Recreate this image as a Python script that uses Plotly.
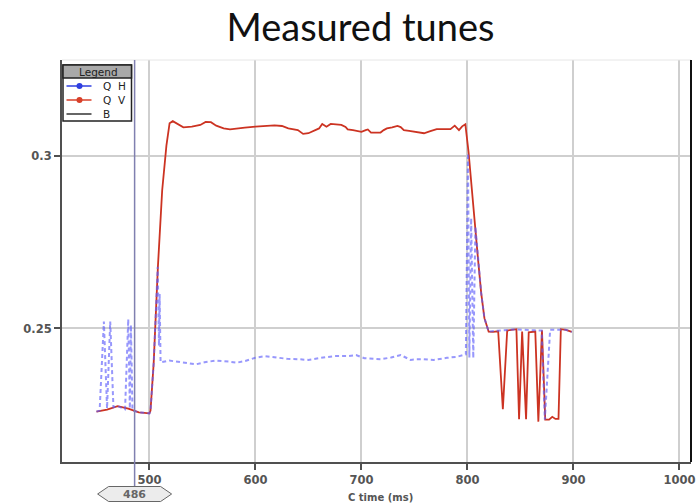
import plotly.graph_objects as go

# ---- data -------------------------------------------------------------
# Q V (vertical tune) vs C time
qv_t = [450, 460, 470, 480, 490, 500, 501, 504, 508, 512, 516, 519, 522, 526, 532,
        540, 548, 553, 558, 563, 570, 576, 583, 590, 600, 610, 618, 625, 631, 640,
        645, 650, 656, 660, 663, 665, 667, 671, 676, 681, 685, 687, 692, 700, 704,
        706, 709, 714, 718, 721, 724, 729, 734, 737, 740, 745, 750, 755, 759, 765,
        771, 778, 784, 788, 792, 795, 798, 801, 804, 807, 810, 813, 816, 820, 824,
        829, 833.4, 837.5, 842, 846.2, 848.7, 851.6, 855.3, 857.8, 864, 866.9, 870.3,
        873.4, 877, 880, 883, 885.9, 888.1, 893, 898.4]
qv_val = [0.2259, 0.2265, 0.2275, 0.2268, 0.2257, 0.2254, 0.2262, 0.2400, 0.2680, 0.2900,
          0.3030, 0.3095, 0.3101, 0.3093, 0.3083, 0.3085, 0.3090, 0.3099, 0.3098, 0.3088,
          0.3080, 0.3077, 0.3080, 0.3082, 0.3085, 0.3087, 0.3089, 0.3087, 0.3080, 0.3075,
          0.3064, 0.3066, 0.3073, 0.3080, 0.3093, 0.3088, 0.3085, 0.3093, 0.3091, 0.3090,
          0.3084, 0.3077, 0.3075, 0.3070, 0.3075, 0.3077, 0.3068, 0.3068, 0.3068, 0.3075,
          0.3080, 0.3083, 0.3087, 0.3084, 0.3075, 0.3073, 0.3070, 0.3068, 0.3066, 0.3072,
          0.3078, 0.3078, 0.3078, 0.3088, 0.3075, 0.3086, 0.3092, 0.3013, 0.2900, 0.2795,
          0.2700, 0.2602, 0.2530, 0.2491, 0.2490, 0.2492, 0.2266, 0.2494, 0.2496, 0.2498,
          0.2237, 0.2491, 0.2237, 0.2489, 0.2491, 0.2230, 0.2495, 0.2236, 0.2236, 0.2244,
          0.2238, 0.2238, 0.2498, 0.2496, 0.2490]

# Q H (horizontal tune) vs C time
qh_t = [450, 453, 457, 460, 463, 466, 470, 477, 480, 481.5, 482.5, 484, 490, 500, 501,
        504, 507.8, 509, 509.6, 510.5, 518.7, 530, 537.4, 543.7, 552, 562.4, 574.8, 582.6,
        590.4, 599.8, 609.1, 621.6, 630, 640.3, 649.7, 662.1, 674.6, 687.1, 694.9, 702.7,
        710, 718.3, 728, 737, 746.3, 752, 758.8, 768.2, 780.6, 790, 796.2, 798.5, 800.5,
        801.8, 803.5, 805.5, 807.5, 810, 813, 816, 820, 823, 829, 835, 842, 848, 855, 862,
        870, 873, 878, 884, 888, 893, 898.4]
qh_val = [0.2259, 0.2262, 0.2520, 0.2268, 0.2520, 0.2272, 0.2275, 0.2266, 0.2527, 0.2268,
          0.2510, 0.2262, 0.2257, 0.2254, 0.2262, 0.2400, 0.2679, 0.2450, 0.2600, 0.2402,
          0.2407, 0.2403, 0.2399, 0.2396, 0.2402, 0.2407, 0.2404, 0.2401, 0.2406, 0.2415,
          0.2420, 0.2414, 0.2412, 0.2411, 0.2409, 0.2415, 0.2420, 0.2420, 0.2423, 0.2414,
          0.2412, 0.2411, 0.2416, 0.2423, 0.2409, 0.2411, 0.2411, 0.2409, 0.2415, 0.2418,
          0.2423, 0.2425, 0.3008, 0.2416, 0.2820, 0.2414, 0.2795, 0.2700, 0.2602, 0.2530,
          0.2491, 0.2492, 0.2494, 0.2495, 0.2497, 0.2497, 0.2495, 0.2495, 0.2494, 0.2236,
          0.2496, 0.2496, 0.2498, 0.2496, 0.2490]

x_ticks = [500, 600, 700, 800, 900, 1000]
y_ticks = [0.25, 0.3]
y_tick_text = ["0.25", "0.3"]
cursor_t = 486
legend_names = ["Q H", "Q V", "B"]
legend_colors = ["#2f3fe0", "#d8402a", "#333333"]
legend_markers = [True, True, False]

# ---- styling ----------------------------------------------------------
RED = "#cc3322"
BLUE = "rgba(95,95,250,0.65)"
AXIS = "#505050"
GRID = "#cfcfcf"
TICK_FONT = dict(family="DejaVu Sans", size=11.5, color="#555555", weight="bold")
LEG_FONT = dict(family="DejaVu Sans", size=10.5, color="#222222")

fig = go.Figure()
fig.add_trace(go.Scatter(x=qv_t, y=qv_val, mode="lines", name="Q V",
                         line=dict(color=RED, width=1.8), showlegend=False))
fig.add_trace(go.Scatter(x=qh_t, y=qh_val, mode="lines", name="Q H",
                         line=dict(color=BLUE, width=2, dash="4px,3px"), showlegend=False))

shapes = []
# faint top frame and black right frame
shapes.append(dict(type="line", xref="paper", yref="paper", x0=0, x1=1, y0=1, y1=1,
                   line=dict(color="#e6e6e6", width=1)))
shapes.append(dict(type="line", xref="paper", yref="paper", x0=1, x1=1, y0=0, y1=1,
                   line=dict(color="#111111", width=2)))

# cursor line with its value tag below the axis
shapes.append(dict(type="line", xref="x", yref="paper", xsizemode="pixel", xanchor=cursor_t,
                   x0=0, x1=0, ysizemode="pixel", yanchor=0, y0=-24, y1=402,
                   line=dict(color="#8080b0", width=1.5), layer="above"))
shapes.append(dict(type="path", xref="x", yref="paper", xsizemode="pixel", xanchor=cursor_t,
                   ysizemode="pixel", yanchor=0,
                   path="M -37 -32 L -26 -24.5 L 26 -24.5 L 37 -32 L 26 -39.5 L -26 -39.5 Z",
                   fillcolor="#ececec", line=dict(color="#666666", width=1), layer="above"))

annotations = [dict(x=cursor_t, xref="x", y=0, yref="paper", yshift=-32, text=str(cursor_t),
                    showarrow=False, xanchor="center", yanchor="middle",
                    font=dict(family="DejaVu Sans", size=11, color="#666666", weight="bold"))]

# hand-built legend box in the top-left corner
def px_shape(kind, x0, y0, x1, y1, **kw):
    d = dict(type=kind, xref="paper", yref="paper", xsizemode="pixel", ysizemode="pixel",
             xanchor=0, yanchor=1, x0=x0, y0=y0, x1=x1, y1=y1, layer="above")
    d.update(kw)
    return d

shapes.append(px_shape("rect", 1, -5, 69.5, -61, fillcolor="white",
                       line=dict(color="#222222", width=1.5)))
shapes.append(px_shape("rect", 1, -5, 69.5, -18, fillcolor="#a9a9a9",
                       line=dict(color="#222222", width=1.5)))
annotations.append(dict(x=0, y=1, xref="paper", yref="paper", xshift=36, yshift=-11.5,
                        text="Legend", showarrow=False, xanchor="center", yanchor="middle",
                        font=LEG_FONT))
for i, (name, col, mk) in enumerate(zip(legend_names, legend_colors, legend_markers)):
    yc = -26 - 14 * i
    shapes.append(px_shape("line", 4.5, yc, 29.5, yc, line=dict(color=col, width=1.5)))
    if mk:
        shapes.append(px_shape("circle", 14.5, yc - 3, 20.5, yc + 3, fillcolor=col,
                               line=dict(color=col, width=0)))
    annotations.append(dict(x=0, y=1, xref="paper", yref="paper", xshift=39, yshift=yc,
                            text=name.replace(" ", "&nbsp;&nbsp;"), showarrow=False,
                            xanchor="left", yanchor="middle", font=LEG_FONT))

# x-axis title
annotations.append(dict(x=0.507, y=0, xref="paper", yref="paper", yshift=-35,
                        text="C time (ms)", showarrow=False, xanchor="center", yanchor="middle",
                        font=dict(family="DejaVu Sans", size=10, color="#555555", weight="bold")))

fig.update_layout(
    width=700, height=504,
    margin=dict(l=62, r=5, t=60, b=42),
    paper_bgcolor="white", plot_bgcolor="white",
    title=dict(text="Measured tunes", x=0.515, xanchor="center", y=0.945, yanchor="middle",
               font=dict(family="Lato", size=38, color="#111111")),
    xaxis=dict(range=[417.5, 1010.9], tickvals=x_ticks, ticktext=[str(v) for v in x_ticks],
               showgrid=True, gridcolor=GRID, gridwidth=1.5, zeroline=False,
               showline=True, linecolor=AXIS, linewidth=2,
               ticks="outside", ticklen=6, tickcolor=AXIS, tickwidth=1.5,
               tickfont=TICK_FONT, ticklabelstandoff=0),
    yaxis=dict(range=[0.21130, 0.32783], tickvals=y_ticks, ticktext=y_tick_text,
               showgrid=True, gridcolor=GRID, gridwidth=1.5, zeroline=False,
               showline=True, linecolor=AXIS, linewidth=2,
               ticks="outside", ticklen=6, tickcolor=AXIS, tickwidth=1.5,
               tickfont=TICK_FONT),
    shapes=shapes,
    annotations=annotations,
    showlegend=False,
)

fig.write_html("out.html")
